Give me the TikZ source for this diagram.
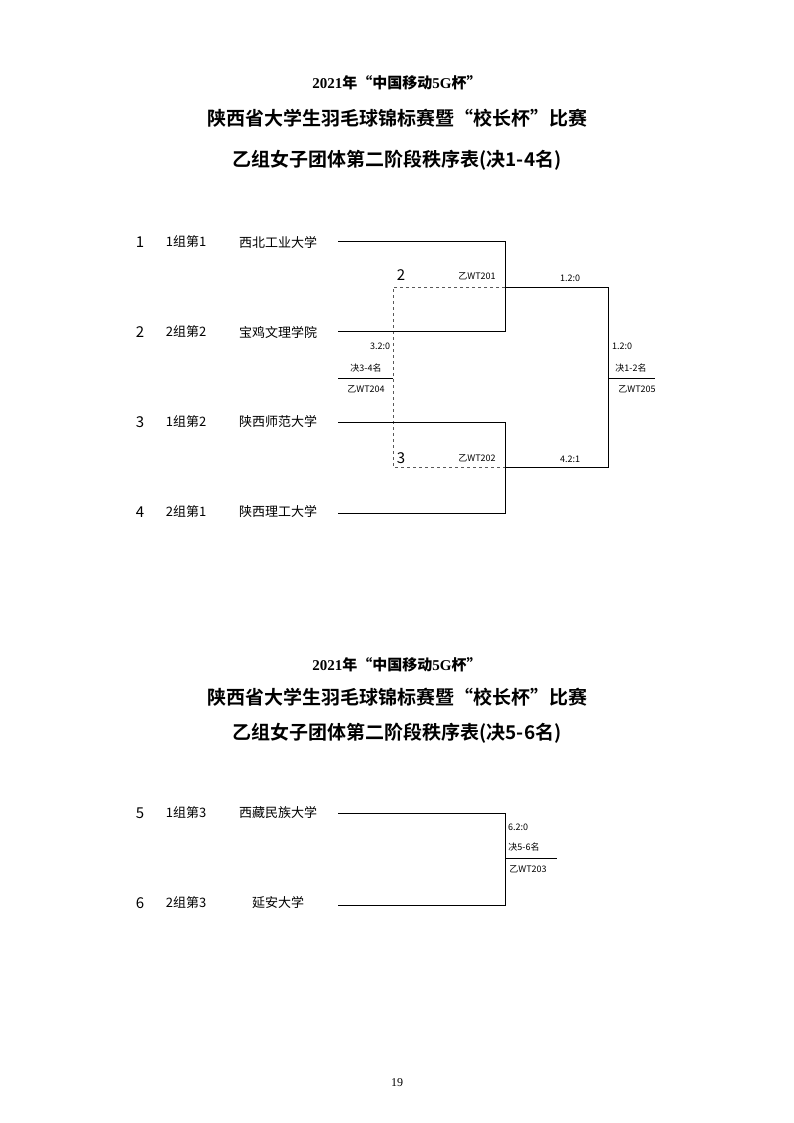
\documentclass[tikz,border=0pt]{standalone}
\usepackage{fontspec}
\setmainfont{Liberation Serif}
\newfontfamily\cjk{Noto Sans CJK SC}
\newfontfamily\cjkb{Noto Sans CJK SC Bold}
\begin{document}
\begin{tikzpicture}[x=1pt,y=-1pt,
 lbl/.style={font=\cjk\fontsize{9}{10}\selectfont,inner sep=0pt},
 team/.style={font=\cjk\fontsize{13}{14}\selectfont,inner sep=0pt},
 num/.style={font=\cjk\fontsize{15}{16}\selectfont,inner sep=0pt},
 t1/.style={font=\bfseries\fontsize{15}{16}\selectfont,inner sep=0pt},
 t2/.style={font=\cjkb\fontsize{19}{20}\selectfont,inner sep=0pt},
 ln/.style={line width=0.8pt},
 dl/.style={line width=0.7pt,dashed,gray!70!black}]
\useasboundingbox (0,0) rectangle (794,1123);
% titles
\node[t1] (ta) at (397,83) {2021{\cjkb 年“中国移动}5G{\cjkb 杯”}};
\node[t2] (tb) at (397,118) {陕西省大学生羽毛球锦标赛暨“校长杯”比赛};
\node[t2] (tc) at (397,160) {乙组女子团体第二阶段秩序表(决1-4名)};
\node[t1] (td) at (397,665) {2021{\cjkb 年“中国移动}5G{\cjkb 杯”}};
\node[t2] (te) at (397,697) {陕西省大学生羽毛球锦标赛暨“校长杯”比赛};
\node[t2] (tf) at (397,733) {乙组女子团体第二阶段秩序表(决5-6名)};
\node[font=\fontsize{12}{13}\selectfont] (pg) at (397,1083) {19};
% teams
\foreach \y/\n/\g/\s [count=\i] in {242/1/1组第1/西北工业大学,332/2/2组第2/宝鸡文理学院,422/3/1组第2/陕西师范大学,512/4/2组第1/陕西理工大学,813/5/1组第3/西藏民族大学}{
 \node[num] (n\i) at (140,\y) {\n};
 \node[team] (g\i) at (186,\y) {\g};
 \node[team] (s\i) at (278,\y) {\s};
}
\node[num] (n6) at (140,903) {6};
\node[team] (g6) at (186,903) {2组第3};
\node[team] (s6) at (278,903) {延安大学};
% coordinates
\coordinate (a1) at (338,241); \coordinate (a2) at (338,331);
\coordinate (a3) at (338,422); \coordinate (a4) at (338,513);
\coordinate (m1) at (505,287); \coordinate (m2) at (505,467);
\coordinate (f1) at (608,287); \coordinate (f2) at (608,467);
\coordinate (d1) at (393,287); \coordinate (d2) at (393,467);
\coordinate (c3) at (338,378); \coordinate (c3b) at (393,378);
\coordinate (cf) at (608,378); \coordinate (cfb) at (655,378);
\draw[dl] (m1) -- (d1) -- (d2) -- (m2);
\draw[ln] (a1) -| (505,331) -- (a2);
\draw[ln] (a3) -| (505,513) -- (a4);
\draw[ln] (m1) -- (f1) -- (f2) -- (m2);
\draw[ln] (c3) -- (c3b);
\draw[ln] (cf) -- (cfb);
\coordinate (b1) at (338,813); \coordinate (b2) at (338,905);
\coordinate (bm) at (505,858); \coordinate (bm2) at (557,858);
\draw[ln] (b1) -| (505,905) -- (b2);
\draw[ln] (bm) -- (bm2);
% labels
\node[num] (k2) at (401,275) {2};
\node[num] (k3) at (401,458) {3};
\node[lbl] (l1) at (477,276) {乙WT201};
\node[lbl] (l2) at (570,278) {1.2:0};
\node[lbl] (l3) at (380,346) {3.2:0};
\node[lbl] (l4) at (366,368) {决3-4名};
\node[lbl] (l5) at (366,389) {乙WT204};
\node[lbl] (l6) at (622,346) {1.2:0};
\node[lbl] (l7) at (631,368) {决1-2名};
\node[lbl] (l8) at (637,389) {乙WT205};
\node[lbl] (l9) at (477,458) {乙WT202};
\node[lbl] (l10) at (570,459) {4.2:1};
\node[lbl] (l11) at (518,827) {6.2:0};
\node[lbl] (l12) at (524,847) {决5-6名};
\node[lbl] (l13) at (528,869) {乙WT203};
\end{tikzpicture}
\end{document}
